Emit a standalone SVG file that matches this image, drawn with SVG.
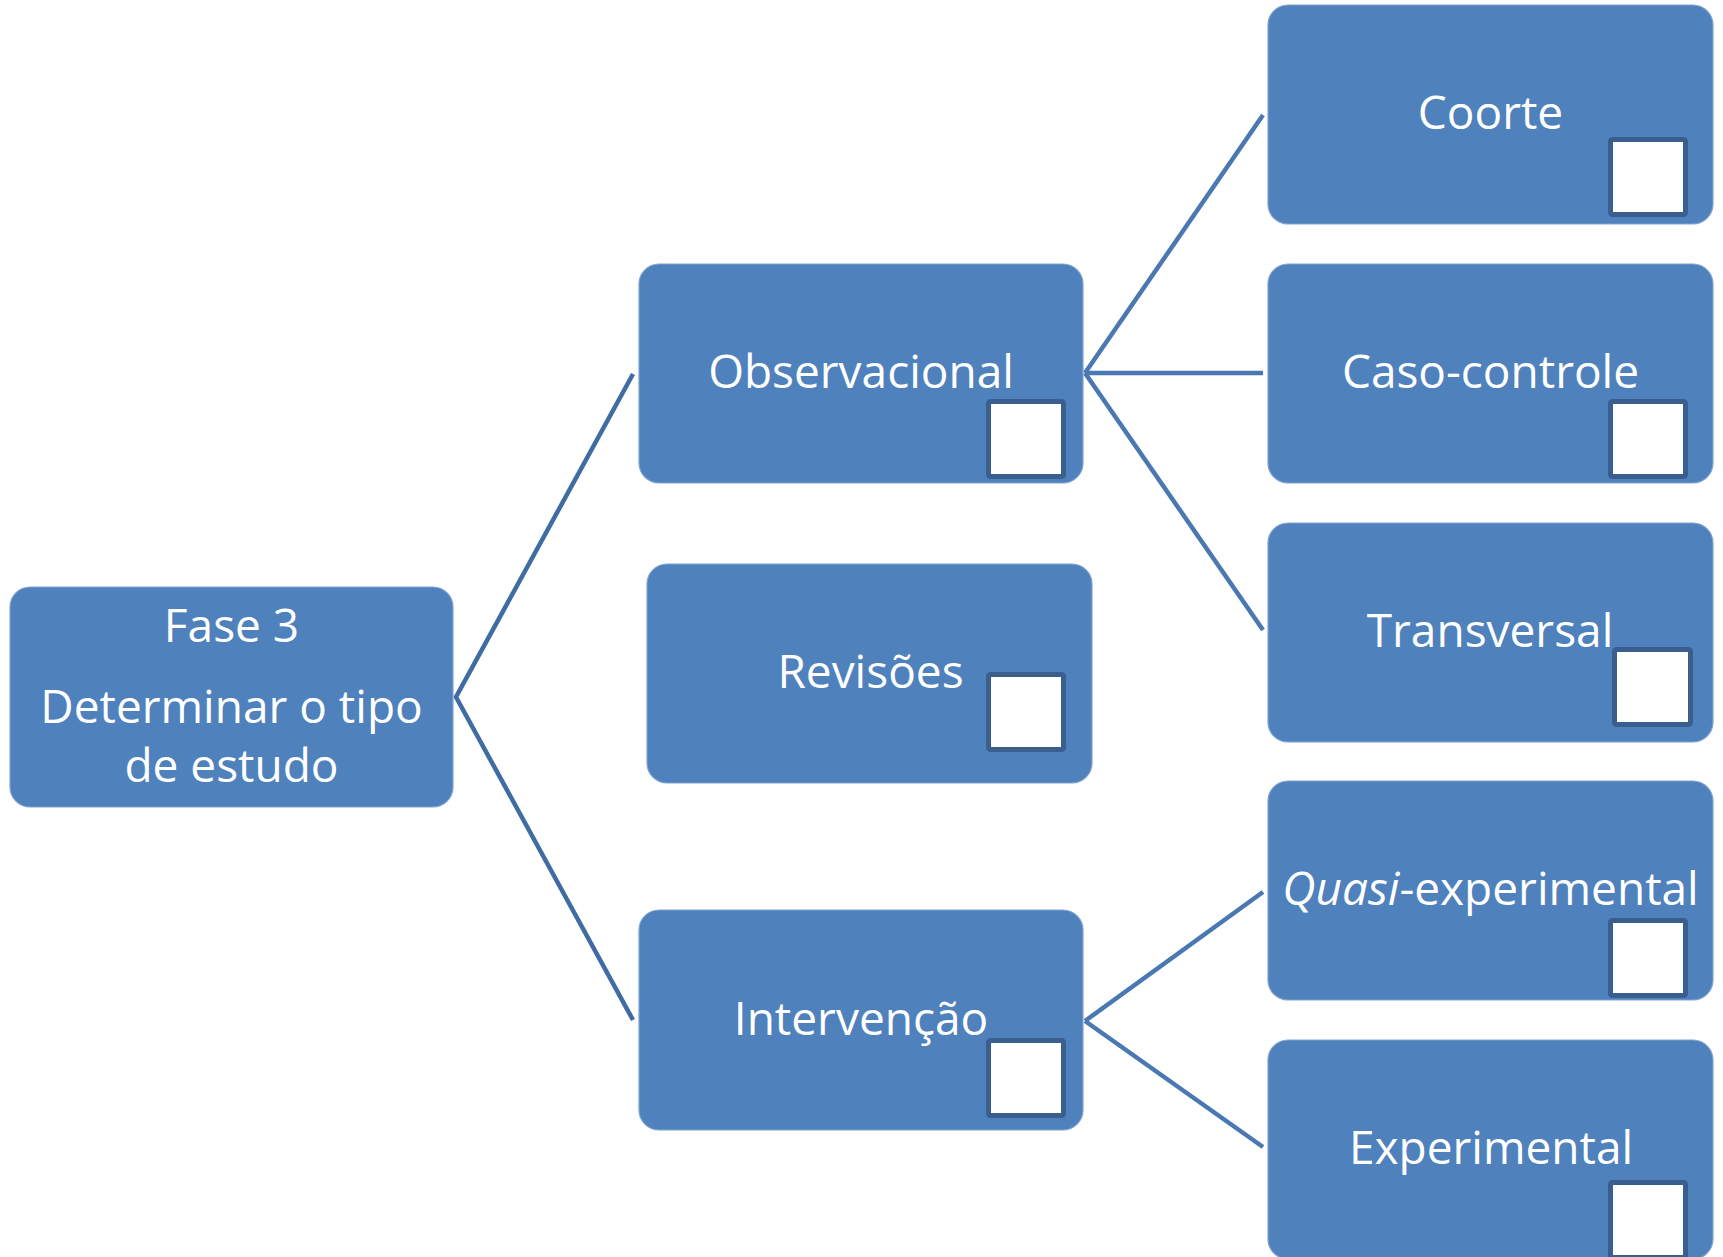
<svg xmlns="http://www.w3.org/2000/svg" width="1723" height="1257" viewBox="0 0 1723 1257">
<style>
.box{fill:#4F81BD;stroke:#7FA3D0;stroke-width:1.2}
.cb{fill:#FFFFFF;stroke:#3A5F8F;stroke-width:5}
.lbl{font-family:"Open Sans","Noto Sans",sans-serif;font-size:46px;fill:#FFFFFF;text-anchor:middle}
.c1{stroke:#3F6CA3;stroke-width:4.5;fill:none}
.c2{stroke:#4A78B3;stroke-width:4.5;fill:none}
</style>
<rect width="1723" height="1257" fill="#FFFFFF"/>
<g id="connectors">
<polyline class="c1" points="633,374 456,697 633,1020"/>
<line class="c2" x1="1085" y1="373" x2="1263" y2="115"/>
<line class="c2" x1="1085" y1="373" x2="1263" y2="373"/>
<line class="c2" x1="1085" y1="373" x2="1263" y2="630"/>
<line class="c2" x1="1085" y1="1021" x2="1263" y2="892"/>
<line class="c2" x1="1085" y1="1021" x2="1263" y2="1147"/>
</g>
<g id="fase3">
<rect class="box" x="10" y="587" width="443" height="220" rx="20"/>
<text class="lbl" x="231.5" y="642">Fase 3</text>
<text class="lbl" x="231.5" y="723">Determinar o tipo</text>
<text class="lbl" x="231.5" y="782">de estudo</text>
</g>
<g id="observacional">
<rect class="box" x="639" y="264" width="444" height="219" rx="20"/>
<text class="lbl" x="861" y="388">Observacional</text>
<rect class="cb" x="988.5" y="401.5" width="75" height="75" rx="2"/>
</g>
<g id="revisoes">
<rect class="box" x="647" y="564" width="445" height="219" rx="20"/>
<text class="lbl" x="870.5" y="688">Revisões</text>
<rect class="cb" x="988.5" y="674.5" width="75" height="75" rx="2"/>
</g>
<g id="intervencao">
<rect class="box" x="639" y="910" width="444" height="220" rx="20"/>
<text class="lbl" x="861" y="1035">Intervenção</text>
<rect class="cb" x="988.5" y="1040.5" width="75" height="75" rx="2"/>
</g>
<g id="coorte">
<rect class="box" x="1268" y="5" width="445" height="219" rx="20"/>
<text class="lbl" x="1490.5" y="129">Coorte</text>
<rect class="cb" x="1610.5" y="139.5" width="75" height="75" rx="2"/>
</g>
<g id="caso-controle">
<rect class="box" x="1268" y="264" width="445" height="219" rx="20"/>
<text class="lbl" x="1490.5" y="388">Caso-controle</text>
<rect class="cb" x="1610.5" y="401.5" width="75" height="75" rx="2"/>
</g>
<g id="transversal">
<rect class="box" x="1268" y="523" width="445" height="219" rx="20"/>
<text class="lbl" x="1490" y="647">Transversal</text>
<rect class="cb" x="1614.5" y="649.5" width="76" height="75" rx="2"/>
</g>
<g id="quasi-experimental">
<rect class="box" x="1268" y="781" width="445" height="219" rx="20"/>
<text class="lbl" x="1490.5" y="905"><tspan font-style="italic">Quasi</tspan>-experimental</text>
<rect class="cb" x="1610.5" y="920.5" width="75" height="75" rx="2"/>
</g>
<g id="experimental">
<rect class="box" x="1268" y="1040" width="445" height="219" rx="20"/>
<text class="lbl" x="1491" y="1164">Experimental</text>
<rect class="cb" x="1610.5" y="1182.5" width="75" height="75" rx="2"/>
</g>
</svg>
